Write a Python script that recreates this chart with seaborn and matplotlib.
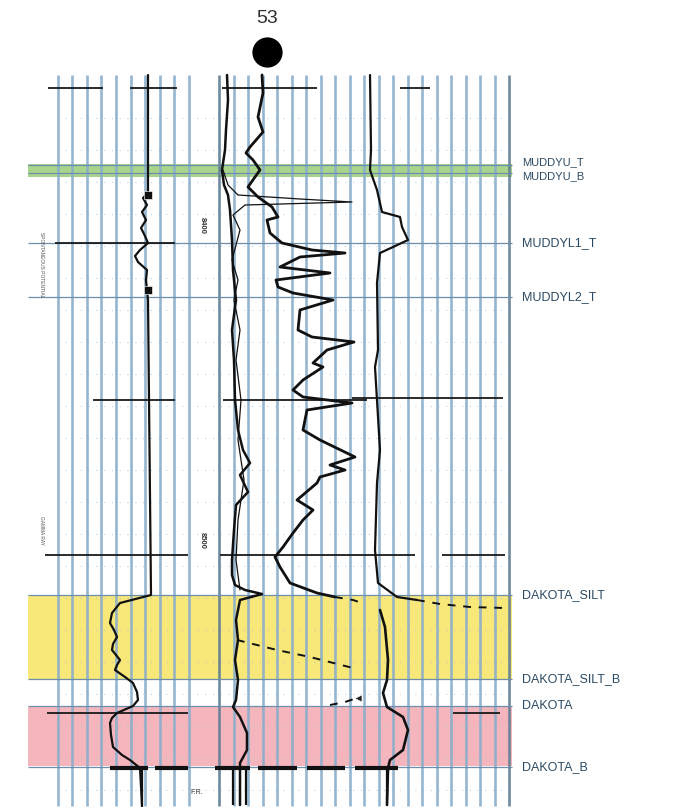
import numpy as np
import pandas as pd
import matplotlib
matplotlib.use("Agg")
import matplotlib.pyplot as plt
import seaborn as sns

# ==========================================
# 0. style
# ==========================================
sns.set_theme(style="white")
plt.rcParams['font.family'] = ['Liberation Sans', 'DejaVu Sans']

# ==========================================
# 1. data (depth in log units, values = position across the track)
# ==========================================
well_name = "53"

top_names = ['MUDDYU_T', 'MUDDYU_B', 'MUDDYL1_T', 'MUDDYL2_T',
             'DAKOTA_SILT', 'DAKOTA_SILT_B', 'DAKOTA', 'DAKOTA_B']
top_depths = [165, 173, 243, 297, 595, 679, 706, 767]

# zones: (top, base, colour)
zone_tops = [164, 595, 707]
zone_bases = [177, 679, 766]
zone_colors = ['#9fd17f', '#f8e56a', '#f3adb5']

# track 1 curve
gr_depth = [75, 193, 198, 205, 212, 220, 228, 236, 243, 250, 256, 262, 270, 280,
            290, 300, 595, 603, 613, 623, 630, 637, 644, 650, 655, 660, 665, 670,
            677, 683, 692, 700, 706, 713, 718, 723, 735, 747, 755, 760, 768, 805]
gr_value = [148, 148, 143, 147, 142, 146, 141, 145, 148, 140, 135, 138, 147, 146,
            147, 148, 151, 120, 112, 110, 114, 117, 113, 112, 116, 120, 117, 115,
            125, 133, 137, 138, 133, 117, 112, 110, 111, 113, 122, 130, 140, 142]

# track 2, left curve
sp_depth = [75, 100, 130, 150, 170, 185, 195, 210, 240, 270, 300, 330, 360, 400,
            430, 450, 463, 475, 492, 505, 530, 560, 575, 585, 590, 594, 600, 620,
            640, 660, 680, 700, 707, 717, 733, 750, 763, 770, 805]
sp_value = [227, 228, 226, 225, 222, 224, 228, 230, 232, 233, 236, 232, 234, 235,
            238, 243, 250, 240, 248, 236, 234, 232, 232, 235, 245, 262, 240, 236,
            238, 235, 238, 236, 233, 240, 247, 247, 240, 240, 240]

# track 2, thin curve
thin_depth = [170, 185, 195, 199, 202, 205, 215, 230, 245, 260, 280, 300, 330,
              360, 400, 440, 480, 520, 560, 590]
thin_value = [223, 228, 238, 300, 352, 245, 233, 240, 236, 232, 238, 234, 240,
              236, 241, 238, 244, 238, 236, 240]

# track 2, heavy spiky curve
res_depth = [75, 93, 117, 132, 147, 153, 160, 170, 177, 187, 197, 207, 217, 220,
             233, 243, 250, 253, 257, 267, 273, 280, 287, 293, 300, 310, 330, 337,
             342, 350, 363, 367, 380, 390, 397, 403, 410, 430, 440, 457, 465, 470,
             477, 483, 500, 510, 520, 533, 547, 557, 567, 583, 593, 597]
res_value = [262, 263, 258, 263, 250, 246, 253, 260, 255, 248, 258, 272, 278, 267,
             270, 282, 312, 345, 300, 280, 330, 276, 278, 293, 333, 300, 298, 312,
             354, 327, 313, 323, 303, 293, 303, 352, 307, 303, 320, 355, 330, 345,
             320, 317, 297, 313, 303, 293, 283, 275, 280, 290, 317, 335]

# track 3 curve
c_depth = [75, 150, 170, 190, 212, 217, 227, 240, 247, 253, 283, 350, 367, 450,
           483, 550, 583, 597, 600]
c_value = [370, 371, 370, 377, 382, 400, 402, 408, 393, 380, 377, 378, 375, 380,
           377, 375, 378, 397, 417]
c2_depth = [610, 627, 660, 680, 693, 707, 717, 730, 750, 760, 768, 805]
c2_value = [380, 385, 388, 387, 383, 387, 403, 408, 403, 390, 388, 387]

# dashed correlation traces
dash_a_depth = [597, 600, 603]
dash_a_value = [335, 353, 362]
dash_b_depth = [600, 604, 607, 608]
dash_b_value = [417, 440, 470, 505]
dash_c_depth = [640, 650, 657, 668]
dash_c_value = [237, 277, 310, 353]
dash_d_depth = [705, 702, 698]
dash_d_value = [330, 345, 357]

# scale lines: depth, start, end
scale_y = [88, 88, 88, 88, 243, 400, 400, 398, 555, 555, 555, 713, 713]
scale_x0 = [48, 130, 222, 400, 55, 93, 223, 352, 45, 220, 442, 47, 453]
scale_x1 = [103, 177, 317, 430, 175, 175, 367, 503, 188, 415, 505, 188, 500]

# heavy dashed base line segments
base_x0 = [110, 155, 215, 258, 307, 355]
base_x1 = [148, 188, 250, 297, 345, 398]

# ==========================================
# 2. figure
# ==========================================
fig = plt.figure(figsize=(6.74, 8.09), dpi=100)
ax = fig.add_axes([0, 0, 1, 1])
ax.set_xlim(0, 674)
ax.set_ylim(809, 0)
ax.axis('off')

x_left, x_right = 28, 512

# zones
for t, b, c in zip(zone_tops, zone_bases, zone_colors):
    ax.fill_between([x_left, x_right], t, b, color=c, alpha=0.9, lw=0, zorder=0)

# grid of the log sheet
track1 = np.linspace(57.7, 189, 10)
track23 = np.linspace(219, 509, 21)
dark = {219.0, 292.0, 422.5, 509.0}
for x in np.concatenate([track1, track23]):
    col = '#5f7c92' if round(x, 1) in dark else '#8aaecb'
    ax.vlines(x, 75, 806, color=col, lw=1.9, alpha=0.9, zorder=1)
for y in np.arange(118, 800, 32):
    ax.hlines(y, 57, 509, color='#9fbfd6', lw=0.8, ls=(0, (1, 6)), alpha=0.7, zorder=1)

# formation top lines
ax.hlines(top_depths, x_left, x_right, color='#6d8fab', lw=0.9, zorder=2)

# black scale lines
ax.hlines(scale_y, scale_x0, scale_x1, color='#1a1a1a', lw=1.3, zorder=3)
ax.hlines([768] * len(base_x0), base_x0, base_x1, color='#111111', lw=3, zorder=4)
ax.vlines([142, 233, 246, 387], 768, [807, 805, 805, 800], color='#111111', lw=1.6, zorder=4)

# curves
kw = dict(sort=False, estimator=None, ax=ax, legend=False, color='#111111', zorder=5)
sns.lineplot(x=gr_value, y=gr_depth, lw=1.6, **kw)
sns.lineplot(x=sp_value, y=sp_depth, lw=1.8, **kw)
sns.lineplot(x=thin_value, y=thin_depth, lw=0.9, **kw)
sns.lineplot(x=res_value, y=res_depth, lw=2.0, **kw)
sns.lineplot(x=c_value, y=c_depth, lw=1.6, **kw)
sns.lineplot(x=c2_value, y=c2_depth, lw=1.9, **kw)
for xv, yv in [(dash_a_value, dash_a_depth), (dash_b_value, dash_b_depth),
               (dash_c_value, dash_c_depth), (dash_d_value, dash_d_depth)]:
    sns.lineplot(x=xv, y=yv, lw=1.4, ls=(0, (4, 4)), **kw)

sns.scatterplot(x=[148, 148], y=[195, 290], marker='s', s=30, color='#111111',
                ax=ax, zorder=6, legend=False)
sns.scatterplot(x=[358], y=[698], marker='<', s=25, color='#222222',
                ax=ax, zorder=6, legend=False)

# well symbol
sns.scatterplot(x=[267], y=[52], s=560, color='black', ax=ax, zorder=6, legend=False)
ax.text(267, 18, well_name, ha='center', va='center', fontsize=14, color='#2f2f2f')

# top labels (the two MUDDYU picks sit almost on top of each other)
label_offset = [-3, 3, 0, 0, 0, 0, 0, 0]
label_size = [8, 8, 9, 9, 9, 9, 9, 9]
for name, d, off, fs in zip(top_names, top_depths, label_offset, label_size):
    ax.text(522, d + off, name, ha='left', va='center', fontsize=fs, color='#2b4a63')

# scanned annotations
ax.text(202, 225, '8400', rotation=270, ha='center', va='center', fontsize=5.5,
        color='#333333', fontweight='bold')
ax.text(202, 540, '8500', rotation=270, ha='center', va='center', fontsize=5.5,
        color='#333333', fontweight='bold')
ax.text(41, 265, 'SPONTANEOUS POTENTIAL', rotation=270, ha='center', va='center',
        fontsize=3.5, color='#555555')
ax.text(41, 530, 'GAMMA RAY', rotation=270, ha='center', va='center',
        fontsize=3.5, color='#555555')
ax.text(197, 793, 'F.R.', ha='center', va='center', fontsize=5, color='#333333')

fig.savefig('out.png', dpi=100, facecolor='white')
